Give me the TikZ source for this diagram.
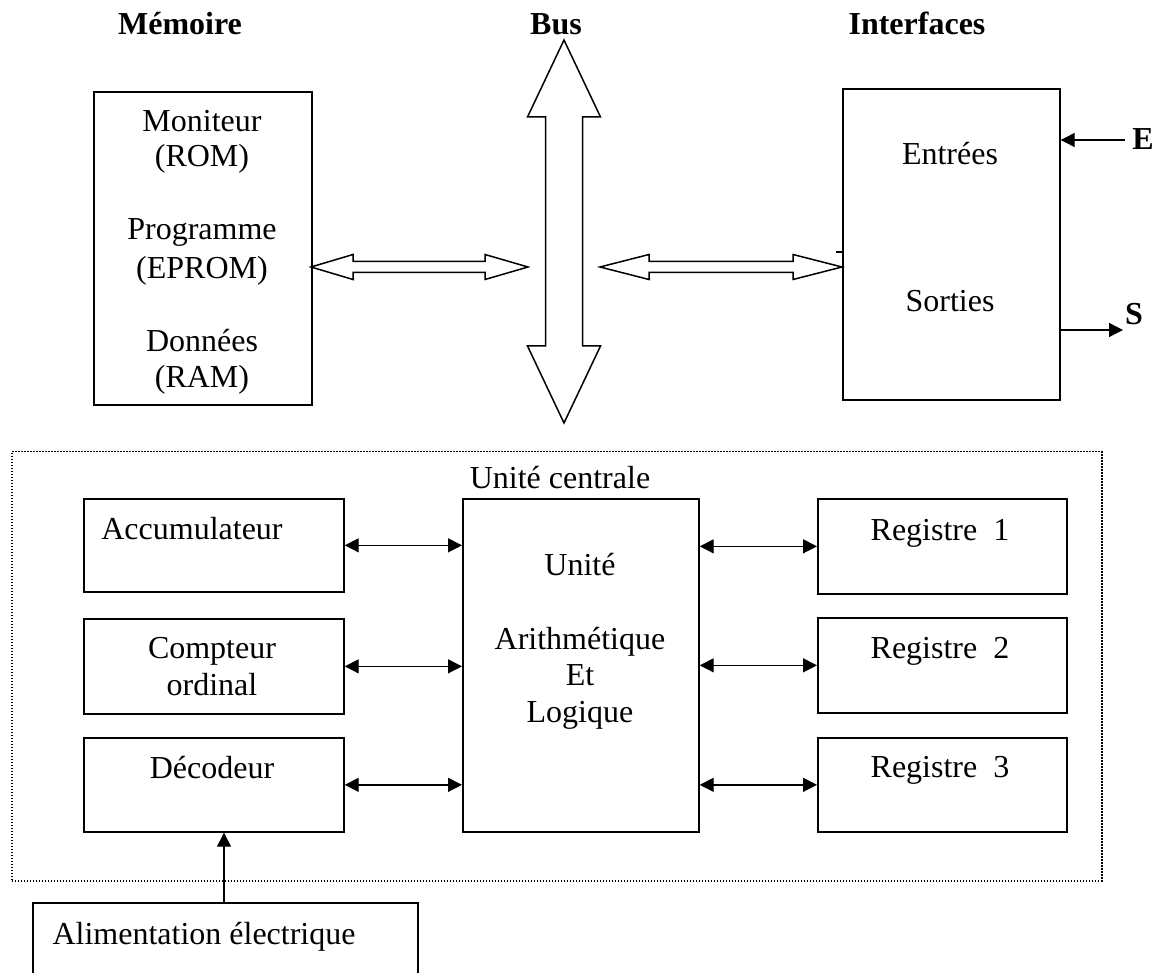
\documentclass[tikz,border=0pt]{standalone}
\usepackage{fontspec}
\setmainfont{Liberation Serif}
\usetikzlibrary{arrows.meta,calc}
\begin{document}
\begin{tikzpicture}[x=1pt,y=-1pt,
  txt/.style={font=\fontsize{32}{38}\selectfont, inner sep=0pt, anchor=base},
  hdr/.style={font=\fontsize{32}{38}\selectfont\bfseries, inner sep=0pt, anchor=base},
  blk/.style={draw, line width=1.7pt, inner sep=0pt, anchor=north west},
  link/.style={line width=1.3pt, {Triangle[length=14pt,width=14pt]}-{Triangle[length=14pt,width=14pt]}},
  sig/.style={line width=1.3pt, -{Triangle[length=14pt,width=14pt]}},
  hollow/.style={draw, line width=1.5pt, fill=white, line join=miter},
  frame/.style={draw, line width=1.5pt, dash pattern=on 1.5pt off 1.5pt, inner sep=0pt, anchor=north west}]
\useasboundingbox[fill=white] (0,0) rectangle (1157,973);

% headings
\node[hdr] (hmem) at (180,35) {Mémoire};
\node[hdr] (hbus) at (556,35) {Bus};
\node[hdr] (hio) at (917,35) {Interfaces};

% memory block
\node[blk, minimum width=218pt, minimum height=313pt] (mem) at (93,91) {};
\node[txt] (t1) at (202,132) {Moniteur};
\node[txt] (t2) at (202,167) {(ROM)};
\node[txt] (t3) at (202,240) {Programme};
\node[txt] (t4) at (202,279) {(EPROM)};
\node[txt] (t5) at (202,352) {Données};
\node[txt] (t6) at (202,388) {(RAM)};

% interface block
\node[blk, minimum width=217pt, minimum height=311pt] (io) at (842,88) {};
\node[txt] (tin) at (950,165) {Entrées};
\node[txt] (tout) at (950,312) {Sorties};
\draw[line width=1.3pt] (io.west |- 0,252) -- ++(-6pt,0);
\node[hdr] (lblE) at (1143,150) {E};
\node[hdr] (lblS) at (1134,325) {S};
\coordinate (eIn) at (1125,140);
\coordinate (sOut) at (1123,330);
\draw[sig] (eIn) -- (eIn -| io.east);
\draw[sig] (sOut -| io.east) -- (sOut);

% system bus
\draw[hollow] (564,40) -- (600.5,117) -- (582.5,117) -- (582.5,346) -- (600.5,346)
  -- (564,423) -- (527.5,346) -- (545.5,346) -- (545.5,117) -- (527.5,117) -- cycle;

% memory <-> bus
\coordinate (memR) at (311,267);
\coordinate (busL) at (528,267);
\draw[hollow] (memR) -- ++(42pt,12.5pt) -- ++(0,-7pt) -- ($(busL)+(-43pt,5.5pt)$)
  -- ++(0,7pt) -- (busL) -- ++(-43pt,-12.5pt) -- ++(0,7pt)
  -- ($(memR)+(42pt,-5.5pt)$) -- ++(0,-7pt) -- cycle;

% bus <-> interfaces
\coordinate (busR) at (600,267);
\coordinate (ioL) at (842,267);
\draw[hollow] (busR) -- ++(49pt,12.5pt) -- ++(0,-7pt) -- ($(ioL)+(-49pt,5.5pt)$)
  -- ++(0,7pt) -- (ioL) -- ++(-49pt,-12.5pt) -- ++(0,7pt)
  -- ($(busR)+(49pt,-5.5pt)$) -- ++(0,-7pt) -- cycle;

% central unit
\node[frame, minimum width=1090pt, minimum height=429pt] (uc) at (11,451) {};
\node[txt] (tuc) at (560,489) {Unité centrale};

\node[blk, minimum width=260pt, minimum height=93pt] (acc) at (83,498) {};
\node[blk, minimum width=260pt, minimum height=95pt] (cpt) at (83,618) {};
\node[blk, minimum width=260pt, minimum height=94pt] (dec) at (83,737) {};
\node[txt] (tacc) at (192,539) {Accumulateur};
\node[txt] (tcpt1) at (212,658) {Compteur};
\node[txt] (tcpt2) at (212,695) {ordinal};
\node[txt] (tdec) at (212,778) {Décodeur};

\node[blk, minimum width=236pt, minimum height=333pt] (alu) at (462,498) {};
\node[txt] (ta1) at (580,575) {Unité};
\node[txt] (ta2) at (580,649) {Arithmétique};
\node[txt] (ta3) at (580,685) {Et};
\node[txt] (ta4) at (580,722) {Logique};

\node[blk, minimum width=249pt, minimum height=95pt] (reg1) at (817,498) {};
\node[blk, minimum width=249pt, minimum height=95pt] (reg2) at (817,617) {};
\node[blk, minimum width=249pt, minimum height=94pt] (reg3) at (817,737) {};
\node[txt] (tr1) at (940,540) {Registre\ \ 1};
\node[txt] (tr2) at (940,658) {Registre\ \ 2};
\node[txt] (tr3) at (940,777) {Registre\ \ 3};

\draw[link] (acc.east) -- (acc.east -| alu.west);
\draw[link] (cpt.east) -- (cpt.east -| alu.west);
\draw[link] (dec.east) -- (dec.east -| alu.west);
\draw[link] (reg1.west -| alu.east) -- (reg1.west);
\draw[link] (reg2.west -| alu.east) -- (reg2.west);
\draw[link] (reg3.west -| alu.east) -- (reg3.west);

% power supply
\draw[line width=1.7pt] (33,973) -- (33,903) -- (418,903) -- (418,973);
\node[txt] (talim) at (204,944) {Alimentation électrique};
\coordinate (alimTop) at (224,903);
\draw[sig] (alimTop) -- (alimTop |- dec.south);
\end{tikzpicture}
\end{document}
